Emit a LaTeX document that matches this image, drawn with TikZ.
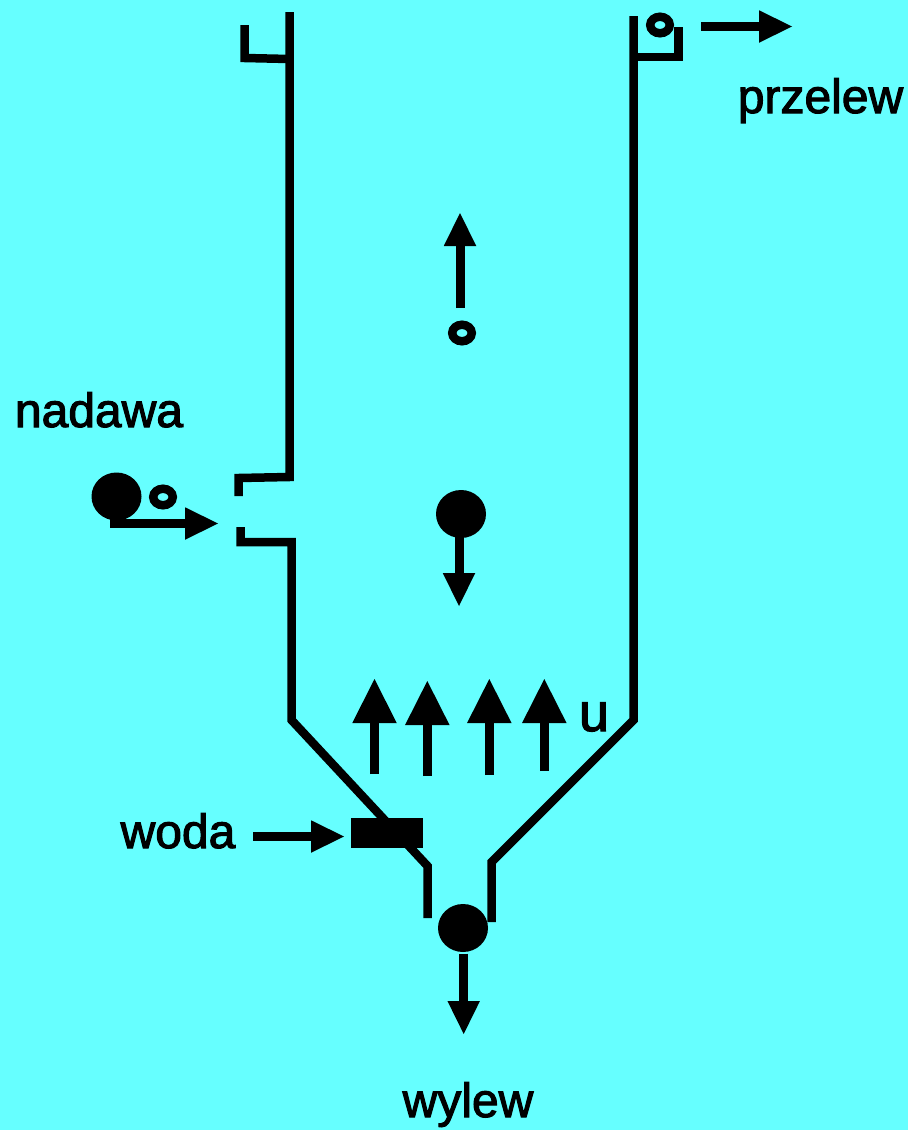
\documentclass[tikz,border=0pt]{standalone}
\usepackage{fontspec}
\setmainfont{Liberation Sans}
\newfontfamily\lblfont{Liberation Sans}[FakeBold=2.2]
\usetikzlibrary{arrows.meta,shapes.geometric}
\definecolor{bgc}{HTML}{66FFFF}
\tikzset{
  wall/.style={line width=8.5pt,miter limit=10},
  flow/.style={line width=9pt,-{Triangle[length=33pt,width=32.5pt,line width=0pt]}},
  bigflow/.style={line width=9pt,-{Triangle[length=44pt,width=44.5pt,line width=0pt]}},
  lump/.style={shape=ellipse,fill=black,inner sep=0pt,minimum width=50pt,minimum height=48pt},
  ringlet/.style={shape=ellipse,draw=black,line width=8.5pt,inner sep=0pt,minimum width=19.5pt,minimum height=16.5pt},
  lbl/.style={anchor=base,inner sep=0pt,font=\lblfont\fontsize{48}{48}\selectfont},
}
\begin{document}
\begin{tikzpicture}[x=1pt,y=-1pt]
\fill[bgc] (0,0) rectangle (908,1130);
\useasboundingbox (0,0) rectangle (908,1130);
% column walls
\draw[wall] (244.5,25) -- (244.5,58) -- (289.5,59);
\draw[wall] (289.5,12) -- (289.5,477) -- (238.5,478) -- (238.5,496);
\draw[wall] (240.5,527) -- (240.5,542) -- (291.5,542) -- (291.5,720) -- (427.5,866) -- (427.5,918);
\draw[wall] (633.5,16) -- (633.5,720) -- (491.5,862) -- (491.5,922);
\draw[wall] (633.5,57) -- (678.5,57) -- (678.5,27);
% nodes
\node[ringlet] (r1) at (660,25) {};
\node[ringlet] (r2) at (163,497) {};
\node[ringlet] (r3) at (462,333) {};
\node[lump] (c1) at (116.5,496.5) {};
\node[lump] (c2) at (461,514) {};
\node[lump] (c3) at (463,928) {};
\node[fill=black,inner sep=0pt,minimum width=72pt,minimum height=30pt] (inlet) at (387,833) {};
\node[lbl] (przelew) at (820.5,113) {przelew};
\node[lbl] (nadawa) at (99,427) {nadawa};
\node[lbl] (woda) at (178,848) {woda};
\node[lbl] (wylew) at (468,1117) {wylew};
\node[lbl,font=\lblfont\fontsize{54}{54}\selectfont] (u) at (594,731) {u};
% arrow ends
\coordinate (a1s) at (701,26.5); \coordinate (a1e) at (792,26.5);
\coordinate (a2s) at (110,523.5); \coordinate (a2e) at (218,523.5);
\coordinate (a3s) at (460,308); \coordinate (a3e) at (460,213);
\coordinate (a4s) at (459,535); \coordinate (a4e) at (459,606);
\coordinate (a5s) at (253,836.5); \coordinate (a5e) at (344,836.5);
\coordinate (a6s) at (463.7,953.5); \coordinate (a6e) at (463.7,1034);
\coordinate (u1s) at (374.5,774); \coordinate (u1e) at (374.5,679);
\coordinate (u2s) at (427.3,776); \coordinate (u2e) at (427.3,681);
\coordinate (u3s) at (489.3,775); \coordinate (u3e) at (489.3,679);
\coordinate (u4s) at (544.3,771); \coordinate (u4e) at (544.3,679);
\draw[flow] (a1s) -- (a1e);
\draw[flow] (a2s) -- (a2e);
\draw[flow] (a3s) -- (a3e);
\draw[flow] (a4s) -- (a4e);
\draw[flow] (a5s) -- (a5e);
\draw[flow] (a6s) -- (a6e);
\draw[bigflow] (u1s) -- (u1e);
\draw[bigflow] (u2s) -- (u2e);
\draw[bigflow] (u3s) -- (u3e);
\draw[bigflow] (u4s) -- (u4e);
\end{tikzpicture}
\end{document}
